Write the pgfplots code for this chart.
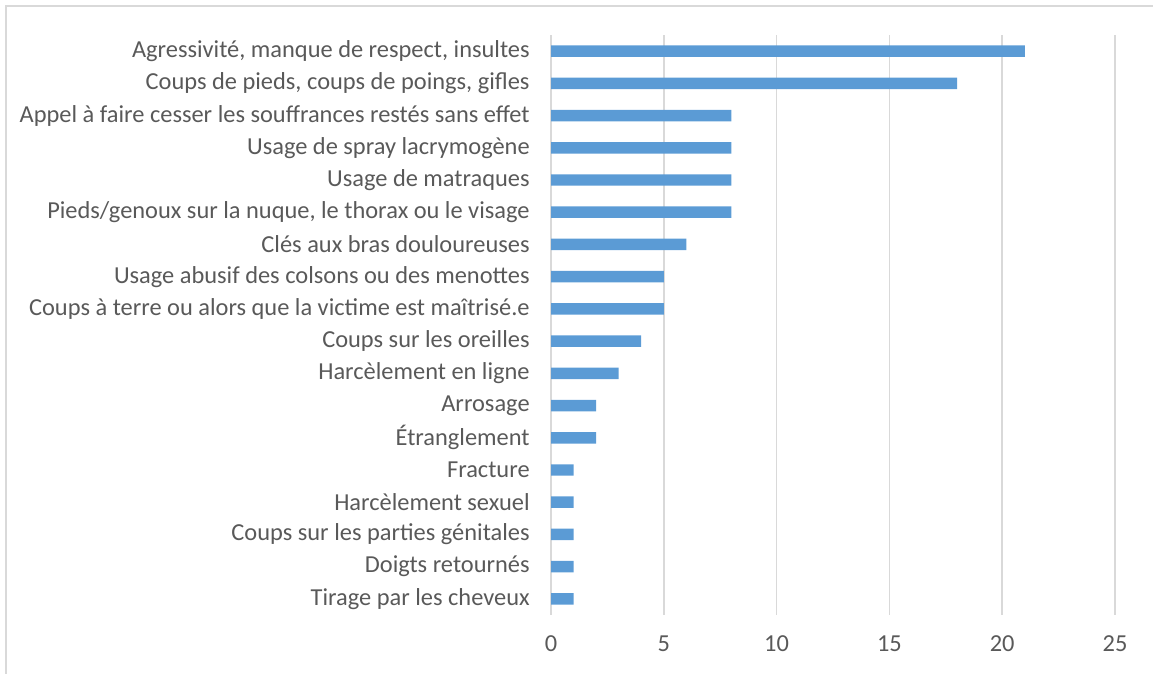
\documentclass[border=0pt]{standalone}
\usepackage{pgfplots}
\pgfplotsset{compat=1.18}
\usepackage{fontspec}
\setmainfont{Carlito}
\definecolor{barblue}{HTML}{5B9BD5}
\definecolor{gridgray}{HTML}{D9D9D9}
\definecolor{txt}{HTML}{595959}
\begin{document}
\begin{tikzpicture}
\useasboundingbox (0,0) rectangle (864.75pt,505.5pt);
\draw[gridgray, line width=1.5pt] (4.5pt,-10pt) -- (4.5pt,501pt) -- (880pt,501pt);
\begin{axis}[
  at={(413.25pt,44.25pt)}, anchor=south west,
  width=423pt, height=435pt, scale only axis,
  xmin=0, xmax=25, ymin=-0.5, ymax=17.5,
  y dir=reverse,
  xbar, bar width=8.6pt,
  axis line style={draw=none},
  xmajorgrids, grid style={gridgray, line width=1.2pt},
  xtick={0,5,...,25},
  ytick={0,...,17},
  major tick length=0pt,
  /pgf/number format/assume math mode=true,
  tick label style={font=\fontsize{18.3pt}{20pt}\selectfont, text=txt},
  yticklabel style={xshift=-12.5pt},
  xticklabel style={yshift=-12pt},
  yticklabels={
    Agressivité{,} manque de respect{,} insultes\hspace{4.5pt},
    Coups de pieds{,} coups de poings{,} gifles,
    Appel à faire cesser les souffrances restés sans effet,
    Usage de spray lacrymogène\hspace{4.5pt},
    Usage de matraques\hspace{4.5pt},
    Pieds/genoux sur la nuque{,} le thorax ou le visage,
    Clés aux bras douloureuses,
    Usage abusif des colsons ou des menottes\hspace{4.5pt},
    Coups à terre ou alors que la victime est maîtrisé.e,
    Coups sur les oreilles\hspace{4.5pt},
    Harcèlement en ligne\hspace{4.5pt},
    Arrosage\hspace{4.5pt},
    Étranglement\hspace{4.5pt},
    Fracture,
    Harcèlement sexuel,
    Coups sur les parties génitales,
    Doigts retournés,
    Tirage par les cheveux\hspace{4.5pt}
  },
]
\addplot[fill=barblue, draw=none] coordinates {
(21,0) (18,1) (8,2) (8,3) (8,4) (8,5) (6,6) (5,7) (5,8) (4,9)
(3,10) (2,11) (2,12) (1,13) (1,14) (1,15) (1,16) (1,17)
};
\end{axis}
\end{tikzpicture}
\end{document}
